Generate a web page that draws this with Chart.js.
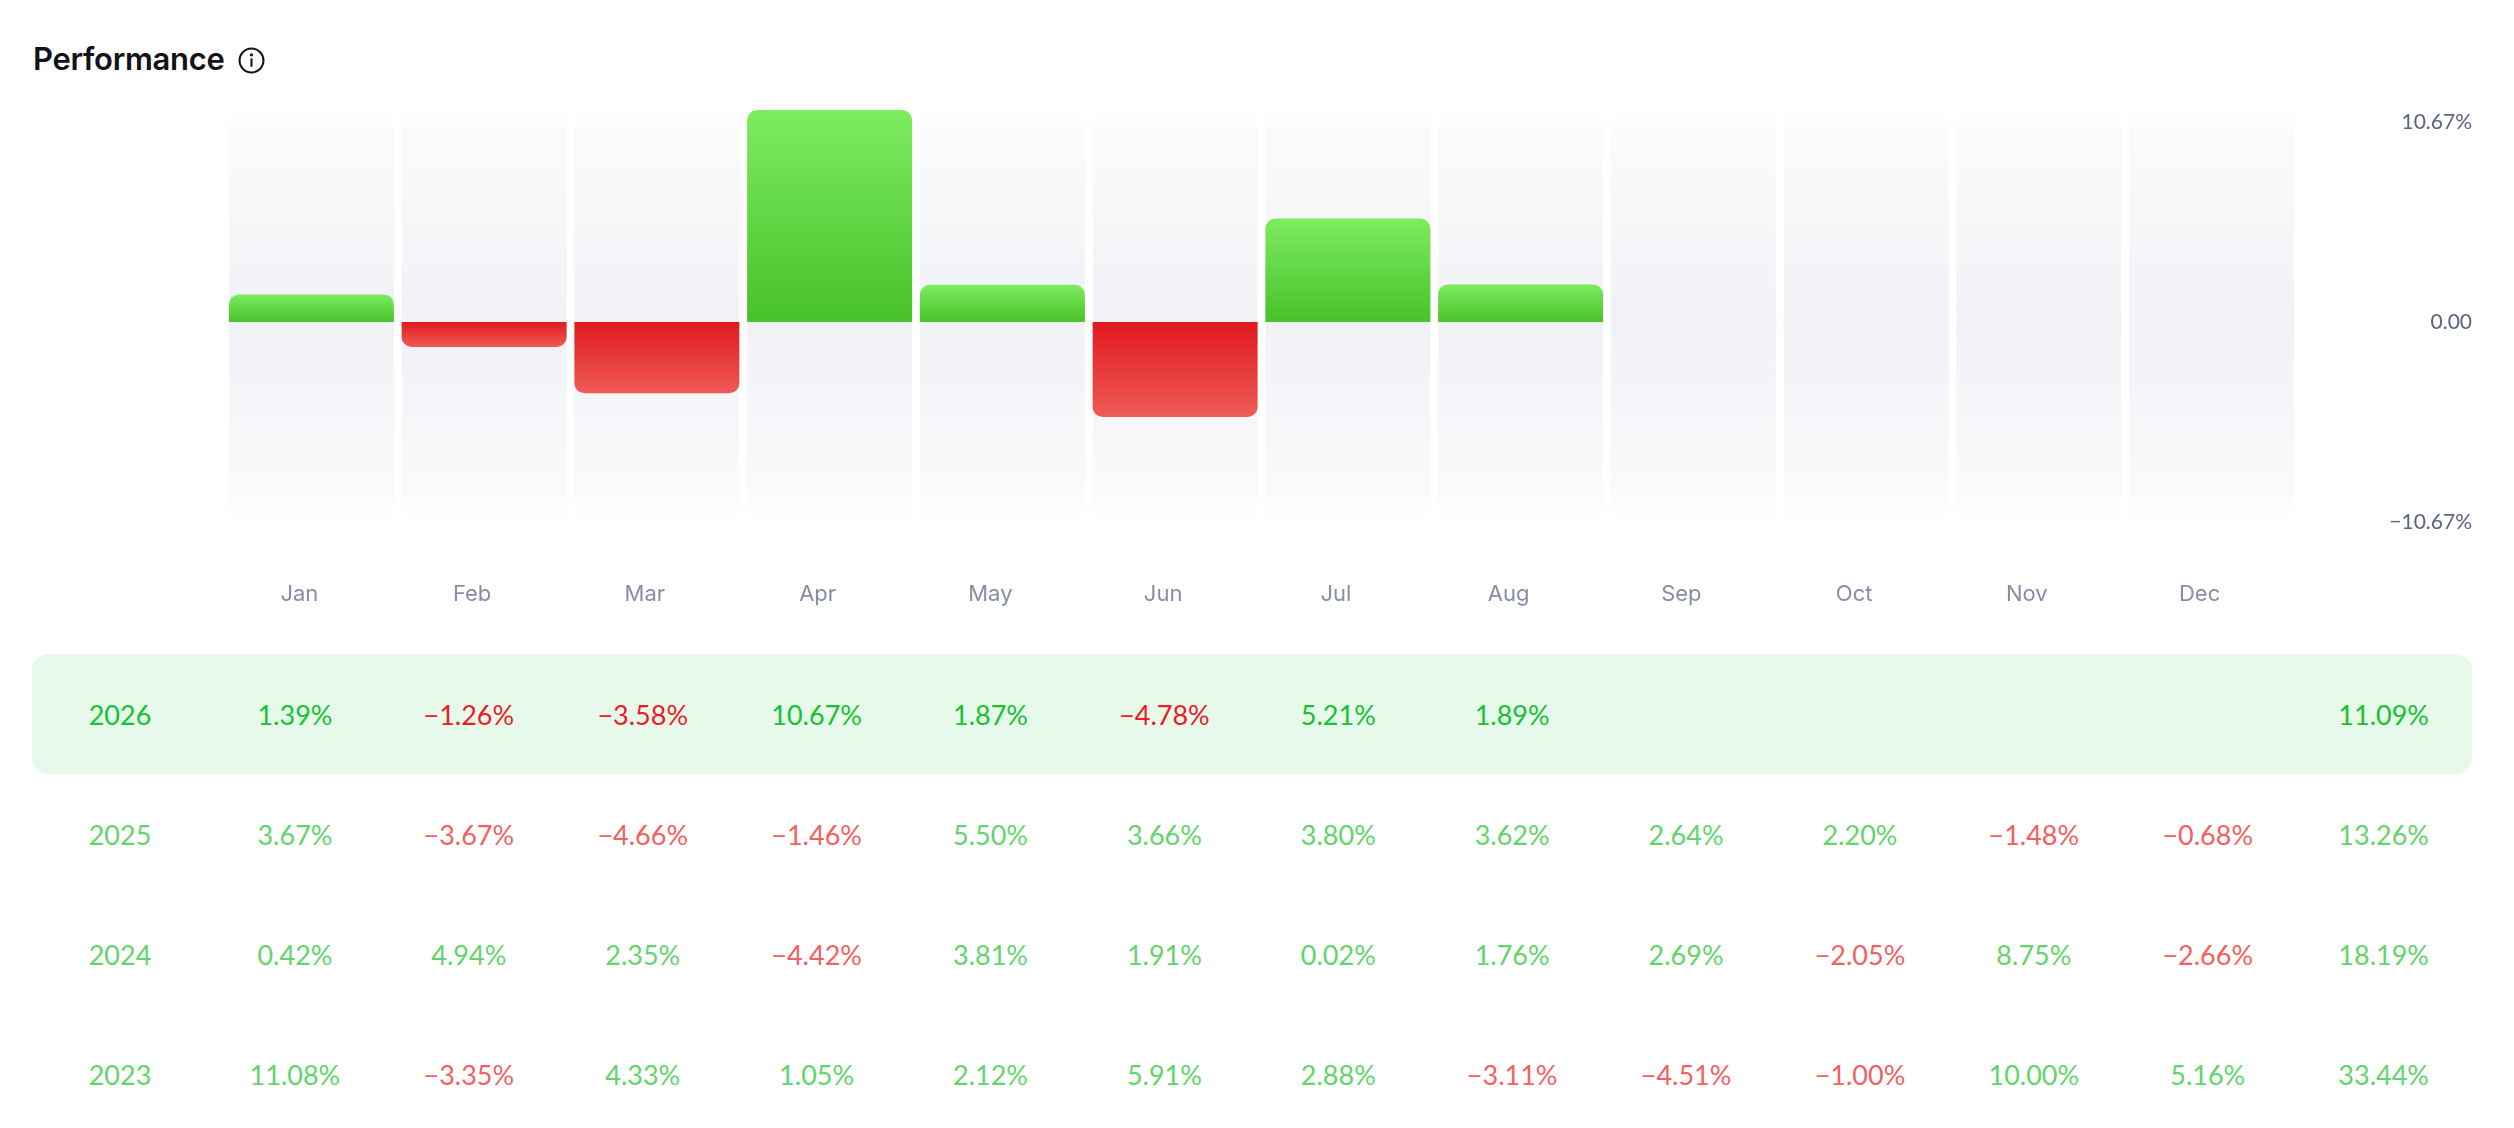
<!DOCTYPE html>
<html lang="en">
<head>
  <meta charset="UTF-8" />
  <title>Performance</title>
  <script src="https://cdn.jsdelivr.net/npm/chart.js"></script>
  <style>
    html, body { margin: 0; padding: 0; background: #fff; }
    body { width: 2514px; height: 1128px; position: relative; overflow: hidden; font-family: Lato, "Noto Sans", sans-serif; }
    .title { position: absolute; left: 33px; top: 40px; font-family: Inter, sans-serif; font-weight: 600; font-size: 31px; color: #111318; display: flex; align-items: center; letter-spacing: -0.3px; }
    .title svg { margin-left: 13px; margin-top: 3px; }
    #chartBox { position: absolute; left: 0; top: 0; width: 2514px; height: 640px; }
    #table { position: absolute; left: 32px; top: 654px; width: 2440px; }
    .row { display: grid; grid-template-columns: 176px repeat(12, 173.9px) 178px; height: 120px; align-items: center; font-size: 27px; }
    .row div { text-align: center; }
    .row.current { background: #e6f9ea; border-radius: 16px; }
    .pos { color: #62d46b; }
    .neg { color: #f4605f; }
    .current .pos { color: #17c130; }
    .current .neg { color: #ee1b24; }
  </style>
</head>
<body>

  <div class="title">
    Performance
    <svg width="27" height="27" viewBox="0 0 26 26" fill="none" stroke="#111318" stroke-width="2">
      <circle cx="13" cy="13" r="11.5" />
      <line x1="13" y1="11" x2="13" y2="19" />
      <circle cx="13" cy="7.5" r="0.6" fill="#111318" />
    </svg>
  </div>

  <div id="chartBox"><canvas id="perfChart"></canvas></div>
  <div id="table"></div>

  <script>
    const months = ['Jan', 'Feb', 'Mar', 'Apr', 'May', 'Jun', 'Jul', 'Aug', 'Sep', 'Oct', 'Nov', 'Dec'];
    const years = ['2026', '2025', '2024', '2023'];
    const returns2026 = [1.39, -1.26, -3.58, 10.67, 1.87, -4.78, 5.21, 1.89, null, null, null, null];
    const returns2025 = [3.67, -3.67, -4.66, -1.46, 5.50, 3.66, 3.80, 3.62, 2.64, 2.20, -1.48, -0.68];
    const returns2024 = [0.42, 4.94, 2.35, -4.42, 3.81, 1.91, 0.02, 1.76, 2.69, -2.05, 8.75, -2.66];
    const returns2023 = [11.08, -3.35, 4.33, 1.05, 2.12, 5.91, 2.88, -3.11, -4.51, -1.00, 10.00, 5.16];
    const totals = [11.09, 13.26, 18.19, 33.44];
    const axisMax = 10.67;
    const axisTicks = [-10.67, 0, 10.67];

    const yearReturns = [returns2026, returns2025, returns2024, returns2023];

    function fmt(v) {
      if (v === null || v === undefined) return '';
      const s = Math.abs(v).toFixed(2) + '%';
      return v < 0 ? '\u2212' + s : s;
    }

    // table below the chart
    const table = document.getElementById('table');
    years.forEach((y, i) => {
      const row = document.createElement('div');
      row.className = 'row' + (i === 0 ? ' current' : '');
      const cells = [y].concat(yearReturns[i].map(fmt)).concat([fmt(totals[i])]);
      const vals = [1].concat(yearReturns[i]).concat([totals[i]]);
      cells.forEach((txt, j) => {
        const c = document.createElement('div');
        c.textContent = txt;
        c.className = (vals[j] !== null && vals[j] < 0) ? 'neg' : 'pos';
        row.appendChild(c);
      });
      table.appendChild(row);
    });

    function barGradient(ctx) {
      const chart = ctx.chart;
      if (!chart.chartArea || ctx.parsed === undefined) return '#5fd845';
      const v = ctx.parsed.y;
      const yScale = chart.scales.y;
      const y0 = yScale.getPixelForValue(0);
      const y1 = yScale.getPixelForValue(v);
      if (!isFinite(y1) || y0 === y1) return v < 0 ? '#e51d23' : '#4bc32b';
      const g = chart.ctx.createLinearGradient(0, y0, 0, y1);
      if (v >= 0) {
        g.addColorStop(0, '#47c22a');
        g.addColorStop(1, '#7eec5f');
      } else {
        g.addColorStop(0, '#e0191f');
        g.addColorStop(1, '#ef5b57');
      }
      return g;
    }

    function bandGradient(ctx) {
      const area = ctx.chart.chartArea;
      if (!area) return '#f3f4f7';
      const g = ctx.chart.ctx.createLinearGradient(0, area.top, 0, area.bottom);
      g.addColorStop(0, 'rgba(252,252,253,0)');
      g.addColorStop(0.05, '#fbfbfc');
      g.addColorStop(0.5, '#f1f2f6');
      g.addColorStop(0.9, '#fafafc');
      g.addColorStop(1, 'rgba(255,255,255,0)');
      return g;
    }

    const chart = new Chart(document.getElementById('perfChart'), {
      type: 'bar',
      data: {
        labels: months,
        datasets: [
          {
            label: '2026',
            data: returns2026,
            backgroundColor: barGradient,
            borderRadius: 10,
            borderSkipped: 'start',
            grouped: false,
            barPercentage: 0.955,
            categoryPercentage: 1,
            order: 1
          },
          {
            label: 'band',
            data: months.map(() => [-axisMax, axisMax]),
            backgroundColor: bandGradient,
            borderRadius: 0,
            grouped: false,
            barPercentage: 0.955,
            categoryPercentage: 1,
            order: 2
          }
        ]
      },
      options: {
        responsive: true,
        maintainAspectRatio: false,
        animation: false,
        layout: { padding: { left: 225, right: 42, top: 110, bottom: 26 } },
        plugins: { legend: { display: false }, tooltip: { enabled: false } },
        scales: {
          x: {
            grid: { display: false, drawTicks: false },
            border: { display: false },
            afterFit: s => { s.height = 80; },
            ticks: {
              padding: 47,
              labelOffset: -12,
              color: '#868da6',
              font: { family: 'Inter', size: 22 }
            }
          },
          y: {
            display: false,
            min: -axisMax,
            max: axisMax
          },
          y1: {
            position: 'right',
            min: -axisMax * 1.06,
            max: axisMax * 1.06,
            grid: { display: false, drawTicks: false },
            border: { display: false },
            afterFit: s => { s.width = 174; },
            afterBuildTicks: s => { s.ticks = axisTicks.map(v => ({ value: v })); },
            ticks: {
              crossAlign: 'far',
              padding: 0,
              color: '#5b6482',
              font: { family: 'Lato', size: 21 },
              callback: v => v === 0 ? '0.00' : fmt(v)
            }
          }
        }
      }
    });
  </script>
</body>
</html>
